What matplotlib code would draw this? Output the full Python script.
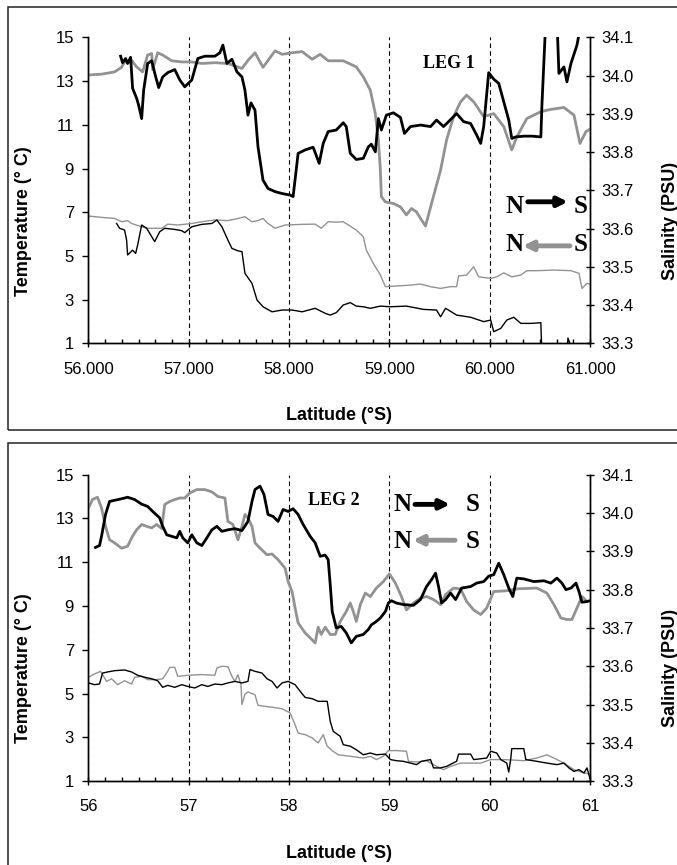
import matplotlib
matplotlib.use('Agg')
import matplotlib.pyplot as plt
from matplotlib.patches import Rectangle
from matplotlib.ticker import MultipleLocator, FormatStrFormatter

plt.rcParams['font.family'] = ['Liberation Sans', 'DejaVu Sans']

# ---- LEG 1 ----
# salinity, ship going N -> S (black, thick)
leg1_sal_ns_lat = [56.32, 56.34, 56.37, 56.39, 56.42, 56.44, 56.48, 56.50, 56.53, 56.55,
                   56.59, 56.63, 56.67, 56.70, 56.74, 56.79, 56.86, 56.91, 56.96, 57.03,
                   57.09, 57.16, 57.26, 57.31, 57.34, 57.38, 57.43, 57.48, 57.53, 57.56,
                   57.59, 57.62, 57.66, 57.69, 57.74, 57.79, 57.86, 57.93, 58.01, 58.04,
                   58.09, 58.16, 58.24, 58.30, 58.34, 58.39, 58.47, 58.54, 58.57, 58.61,
                   58.67, 58.74, 58.79, 58.82, 58.86, 58.89, 58.92, 58.97, 59.04, 59.11,
                   59.15, 59.21, 59.31, 59.41, 59.47, 59.54, 59.59, 59.67, 59.74, 59.81,
                   59.87, 59.91, 59.94, 59.99, 60.04, 60.09, 60.14, 60.19, 60.22, 60.26,
                   60.34, 60.42, 60.51, 60.52, 60.56, 60.67, 60.69, 60.74, 60.77, 60.81,
                   60.87, 60.92]
leg1_sal_ns = [34.051, 34.034, 34.045, 34.032, 34.048, 33.967, 33.941, 33.923, 33.888, 33.962,
               34.032, 34.039, 33.997, 33.969, 33.997, 34.008, 34.016, 33.989, 33.971, 33.989,
               34.045, 34.051, 34.051, 34.060, 34.080, 34.032, 34.043, 34.010, 33.997, 33.962,
               33.897, 33.929, 33.910, 33.814, 33.727, 33.705, 33.697, 33.692, 33.688, 33.684,
               33.797, 33.806, 33.813, 33.771, 33.823, 33.854, 33.858, 33.877, 33.867, 33.797,
               33.781, 33.784, 33.814, 33.821, 33.801, 33.888, 33.858, 33.897, 33.903, 33.891,
               33.849, 33.867, 33.871, 33.867, 33.884, 33.867, 33.880, 33.901, 33.880, 33.875,
               33.845, 33.823, 33.867, 34.008, 33.991, 33.980, 33.932, 33.884, 33.836, 33.840,
               33.842, 33.842, 33.840, 33.919, 34.150, 34.150, 34.006, 34.023, 33.984, 34.032,
               34.080, 34.150]

# salinity, ship going S -> N (grey, thick)
leg1_sal_sn_lat = [56.00, 56.13, 56.26, 56.33, 56.36, 56.43, 56.48, 56.54, 56.59, 56.63,
                   56.64, 56.69, 56.74, 56.83, 56.93, 57.03, 57.13, 57.26, 57.39, 57.53,
                   57.59, 57.66, 57.74, 57.79, 57.86, 57.93, 58.03, 58.13, 58.23, 58.31,
                   58.39, 58.54, 58.67, 58.74, 58.81, 58.86, 58.89, 58.91, 58.92, 58.96,
                   59.04, 59.11, 59.17, 59.22, 59.27, 59.31, 59.36, 59.42, 59.51, 59.57,
                   59.64, 59.71, 59.77, 59.84, 59.94, 60.04, 60.14, 60.22, 60.27, 60.37,
                   60.51, 60.61, 60.74, 60.84, 60.90, 60.96, 61.00]
leg1_sal_sn = [34.002, 34.004, 34.010, 34.022, 34.036, 34.040, 34.023, 34.010, 34.054, 34.058,
               34.016, 34.060, 34.054, 34.039, 34.036, 34.036, 34.032, 34.034, 34.032, 34.019,
               34.040, 34.060, 34.022, 34.040, 34.065, 34.056, 34.060, 34.063, 34.043, 34.056,
               34.039, 34.039, 34.023, 33.997, 33.962, 33.900, 33.832, 33.753, 33.684, 33.670,
               33.666, 33.657, 33.636, 33.653, 33.644, 33.627, 33.607, 33.666, 33.753, 33.832,
               33.893, 33.932, 33.949, 33.932, 33.893, 33.901, 33.867, 33.806, 33.840, 33.888,
               33.906, 33.912, 33.917, 33.897, 33.823, 33.854, 33.860]

# temperature, N -> S (black, thin)
leg1_temp_ns_lat = [56.28, 56.31, 56.36, 56.38, 56.39, 56.44, 56.47, 56.49, 56.53, 56.58,
                    56.61, 56.66, 56.71, 56.76, 56.86, 56.93, 56.96, 57.03, 57.13, 57.23,
                    57.28, 57.33, 57.39, 57.43, 57.49, 57.53, 57.56, 57.63, 57.68, 57.74,
                    57.83, 57.93, 58.03, 58.13, 58.26, 58.36, 58.41, 58.47, 58.54, 58.61,
                    58.67, 58.74, 58.81, 58.91, 59.01, 59.17, 59.34, 59.47, 59.51, 59.56,
                    59.67, 59.81, 59.94, 60.01, 60.04, 60.11, 60.17, 60.24, 60.31, 60.41,
                    60.51, 60.52, 60.77, 60.78, 60.80, 60.82]
leg1_temp_ns = [6.49, 6.27, 6.19, 5.73, 5.05, 5.27, 5.12, 5.50, 6.42, 6.27,
                6.04, 5.66, 6.11, 6.27, 6.22, 6.16, 6.07, 6.34, 6.45, 6.49,
                6.65, 6.34, 5.73, 5.35, 5.24, 5.20, 4.21, 3.75, 2.99, 2.68,
                2.45, 2.53, 2.53, 2.45, 2.61, 2.38, 2.30, 2.41, 2.76, 2.87,
                2.71, 2.68, 2.61, 2.71, 2.68, 2.71, 2.56, 2.53, 2.22, 2.61,
                2.30, 2.20, 2.00, 2.07, 1.54, 1.69, 2.07, 2.20, 1.92, 1.92,
                1.95, 0.50, 0.50, 1.25, 1.00, 0.50]

# temperature, S -> N (grey, thin)
leg1_temp_sn_lat = [56.00, 56.13, 56.26, 56.33, 56.39, 56.43, 56.53, 56.59, 56.73, 56.79,
                    56.89, 57.03, 57.13, 57.26, 57.39, 57.49, 57.56, 57.63, 57.69, 57.74,
                    57.79, 57.86, 57.96, 58.13, 58.26, 58.32, 58.39, 58.47, 58.54, 58.67,
                    58.74, 58.77, 58.84, 58.91, 58.96, 59.07, 59.21, 59.31, 59.41, 59.51,
                    59.61, 59.67, 59.69, 59.77, 59.84, 59.89, 60.01, 60.07, 60.14, 60.22,
                    60.31, 60.37, 60.47, 60.64, 60.81, 60.89, 60.92, 60.97, 61.00]
leg1_temp_sn = [6.83, 6.77, 6.72, 6.57, 6.62, 6.49, 6.34, 6.27, 6.27, 6.46,
                6.42, 6.49, 6.57, 6.65, 6.62, 6.72, 6.80, 6.57, 6.62, 6.72,
                6.49, 6.27, 6.42, 6.45, 6.46, 6.27, 6.57, 6.55, 6.57, 6.19,
                5.88, 5.27, 4.66, 4.13, 3.60, 3.63, 3.67, 3.72, 3.60, 3.52,
                3.60, 3.60, 4.09, 4.13, 4.51, 4.05, 3.98, 4.05, 4.23, 4.05,
                4.13, 4.33, 4.33, 4.36, 4.33, 4.21, 3.52, 3.75, 3.72]

# ---- LEG 2 ----
leg2_sal_ns_lat = [56.07, 56.11, 56.13, 56.17, 56.21, 56.26, 56.33, 56.39, 56.46, 56.53,
                   56.59, 56.64, 56.71, 56.74, 56.78, 56.83, 56.88, 56.91, 56.94, 56.99,
                   57.03, 57.08, 57.13, 57.18, 57.23, 57.28, 57.33, 57.39, 57.46, 57.53,
                   57.59, 57.63, 57.66, 57.71, 57.75, 57.79, 57.84, 57.89, 57.94, 57.99,
                   58.04, 58.09, 58.14, 58.21, 58.26, 58.31, 58.36, 58.39, 58.41, 58.43,
                   58.47, 58.52, 58.57, 58.62, 58.67, 58.74, 58.79, 58.82, 58.86, 58.91,
                   58.96, 58.99, 59.02, 59.07, 59.14, 59.24, 59.31, 59.37, 59.42, 59.46,
                   59.49, 59.52, 59.56, 59.61, 59.66, 59.72, 59.81, 59.87, 59.94, 59.99,
                   60.04, 60.09, 60.14, 60.19, 60.23, 60.27, 60.34, 60.44, 60.54, 60.61,
                   60.67, 60.72, 60.76, 60.81, 60.86, 60.89, 60.92, 60.97, 61.00]
leg2_sal_ns = [33.910, 33.915, 33.939, 33.996, 34.030, 34.033, 34.037, 34.041, 34.035, 34.023,
               34.017, 34.004, 33.987, 33.965, 33.943, 33.939, 33.935, 33.952, 33.935, 33.922,
               33.943, 33.922, 33.915, 33.935, 33.956, 33.965, 33.952, 33.956, 33.959, 33.954,
               33.978, 34.030, 34.061, 34.070, 34.048, 33.996, 33.991, 33.978, 34.009, 34.004,
               34.011, 33.996, 33.970, 33.939, 33.922, 33.887, 33.890, 33.878, 33.813, 33.743,
               33.700, 33.704, 33.687, 33.661, 33.678, 33.683, 33.696, 33.708, 33.715, 33.726,
               33.743, 33.765, 33.771, 33.765, 33.761, 33.759, 33.774, 33.808, 33.826, 33.843,
               33.808, 33.765, 33.774, 33.791, 33.774, 33.804, 33.808, 33.817, 33.821, 33.835,
               33.839, 33.869, 33.839, 33.804, 33.782, 33.830, 33.828, 33.821, 33.823, 33.817,
               33.830, 33.817, 33.800, 33.804, 33.817, 33.795, 33.767, 33.769, 33.771]

leg2_sal_sn_lat = [56.00, 56.04, 56.09, 56.13, 56.17, 56.21, 56.26, 56.33, 56.39, 56.43,
                   56.48, 56.53, 56.58, 56.63, 56.68, 56.73, 56.76, 56.81, 56.86, 56.91,
                   56.96, 57.01, 57.08, 57.16, 57.23, 57.29, 57.36, 57.39, 57.44, 57.49,
                   57.53, 57.56, 57.59, 57.63, 57.66, 57.71, 57.78, 57.83, 57.89, 57.96,
                   57.99, 58.03, 58.06, 58.09, 58.16, 58.23, 58.26, 58.29, 58.32, 58.36,
                   58.41, 58.46, 58.51, 58.57, 58.61, 58.64, 58.67, 58.71, 58.76, 58.81,
                   58.87, 58.94, 59.00, 59.06, 59.12, 59.17, 59.24, 59.31, 59.37, 59.44,
                   59.51, 59.56, 59.64, 59.71, 59.77, 59.84, 59.91, 59.97, 60.04, 60.17,
                   60.27, 60.47, 60.57, 60.64, 60.71, 60.77, 60.82, 60.87, 60.92, 60.97]
leg2_sal_sn = [34.013, 34.035, 34.041, 34.013, 33.965, 33.930, 33.922, 33.908, 33.913, 33.935,
               33.956, 33.970, 33.965, 33.961, 33.970, 33.959, 34.022, 34.030, 34.035, 34.039,
               34.039, 34.052, 34.061, 34.061, 34.055, 34.043, 34.039, 33.978, 33.970, 33.930,
               33.965, 33.996, 33.987, 33.965, 33.922, 33.908, 33.891, 33.893, 33.878, 33.856,
               33.821, 33.795, 33.752, 33.713, 33.687, 33.669, 33.661, 33.702, 33.683, 33.702,
               33.683, 33.683, 33.717, 33.743, 33.765, 33.743, 33.717, 33.761, 33.791, 33.782,
               33.804, 33.821, 33.841, 33.817, 33.782, 33.747, 33.765, 33.778, 33.782, 33.774,
               33.761, 33.787, 33.804, 33.802, 33.769, 33.747, 33.735, 33.752, 33.795, 33.797,
               33.802, 33.804, 33.791, 33.761, 33.726, 33.722, 33.722, 33.752, 33.782, 33.769]

leg2_temp_ns_lat = [56.00, 56.06, 56.11, 56.14, 56.19, 56.26, 56.36, 56.43, 56.49, 56.56,
                    56.63, 56.69, 56.74, 56.79, 56.86, 56.93, 56.99, 57.06, 57.13, 57.19,
                    57.26, 57.33, 57.39, 57.46, 57.53, 57.59, 57.61, 57.66, 57.73, 57.78,
                    57.83, 57.88, 57.93, 57.99, 58.06, 58.11, 58.16, 58.23, 58.29, 58.38,
                    58.41, 58.44, 58.51, 58.54, 58.61, 58.67, 58.74, 58.81, 58.87, 58.96,
                    59.01, 59.07, 59.14, 59.21, 59.27, 59.32, 59.41, 59.44, 59.51, 59.57,
                    59.67, 59.69, 59.81, 59.84, 59.97, 60.01, 60.07, 60.11, 60.17, 60.19,
                    60.21, 60.22, 60.34, 60.36, 60.47, 60.57, 60.67, 60.74, 60.79, 60.84,
                    60.89, 60.94, 60.97, 61.00]
leg2_temp_ns = [5.49, 5.41, 5.44, 5.94, 5.99, 6.05, 6.08, 5.99, 5.84, 5.75,
                5.68, 5.59, 5.29, 5.38, 5.29, 5.41, 5.33, 5.26, 5.41, 5.33,
                5.44, 5.41, 5.49, 5.56, 5.49, 5.56, 6.10, 6.02, 5.94, 5.68,
                5.56, 5.26, 5.49, 5.56, 5.41, 5.11, 4.83, 4.77, 4.65, 4.65,
                3.74, 3.28, 3.05, 2.67, 2.60, 2.44, 2.21, 2.29, 2.21, 2.24,
                1.99, 1.94, 1.91, 1.83, 1.76, 1.91, 1.99, 1.61, 1.61, 1.68,
                1.91, 2.24, 2.24, 1.99, 2.06, 2.37, 2.29, 1.99, 1.83, 1.42,
                2.03, 2.49, 2.49, 1.99, 1.91, 1.83, 1.76, 1.83, 1.61, 1.45,
                1.53, 1.38, 1.61, 1.12]

leg2_temp_sn_lat = [56.00, 56.06, 56.12, 56.18, 56.23, 56.29, 56.36, 56.43, 56.46, 56.53,
                    56.59, 56.68, 56.74, 56.79, 56.81, 56.86, 56.89, 56.99, 57.13, 57.26,
                    57.28, 57.33, 57.39, 57.43, 57.46, 57.49, 57.52, 57.53, 57.56, 57.59,
                    57.66, 57.69, 57.76, 57.83, 57.93, 58.01, 58.06, 58.09, 58.16, 58.23,
                    58.29, 58.34, 58.38, 58.43, 58.49, 58.61, 58.74, 58.81, 58.87, 58.94,
                    58.99, 59.07, 59.17, 59.19, 59.27, 59.37, 59.47, 59.54, 59.61, 59.71,
                    59.81, 59.91, 60.01, 60.14, 60.34, 60.47, 60.57, 60.64, 60.74, 60.84,
                    60.94, 61.00]
leg2_temp_sn = [5.75, 5.90, 6.02, 5.56, 5.68, 5.41, 5.59, 5.44, 5.75, 5.79,
                5.64, 5.64, 5.68, 6.02, 6.20, 6.20, 5.79, 5.84, 5.87, 5.84,
                6.17, 6.25, 6.23, 5.79, 5.56, 5.87, 5.41, 4.50, 4.98, 5.08,
                4.95, 4.47, 4.42, 4.38, 4.31, 4.12, 3.58, 3.20, 3.13, 2.98,
                2.75, 3.13, 2.60, 2.40, 2.21, 2.14, 2.06, 2.14, 1.99, 2.14,
                2.40, 2.40, 2.37, 1.91, 1.88, 1.94, 1.68, 1.53, 1.68, 1.83,
                1.83, 1.83, 1.99, 1.99, 1.94, 2.06, 2.21, 2.06, 1.83, 1.53,
                1.38, 1.33]

temp_ticks = [1, 3, 5, 7, 9, 11, 13, 15]
sal_ticks = [33.3, 33.4, 33.5, 33.6, 33.7, 33.8, 33.9, 34.0, 34.1]
lat_ticks = [56, 57, 58, 59, 60, 61]

GREY = '#929292'
serif = ['Liberation Serif', 'DejaVu Serif']

fig = plt.figure(figsize=(6.77, 8.65), dpi=100)

# the two boxes around the panels
fig.add_artist(Rectangle((0.0118, 0.503), 1.0, 0.489, transform=fig.transFigure,
                         fill=False, ec='#222222', lw=1.1))
fig.add_artist(Rectangle((0.0118, -0.02), 1.0, 0.508, transform=fig.transFigure,
                         fill=False, ec='#222222', lw=1.1))


def panel(rect, lines, xfmt, leg, leg_xy, n_x, s_x, ar1, ar2, row1, row2, ylab_y):
    ax = fig.add_axes(rect)
    ax2 = ax.twinx()
    t_ns, t_sn, s_ns, s_sn = lines
    ax.plot(*t_sn, color=GREY, lw=1.0)
    ax.plot(*t_ns, color='black', lw=1.0)
    ax2.plot(*s_sn, color=GREY, lw=2.0)
    ax2.plot(*s_ns, color='black', lw=2.0)

    ax.set_xlim(56, 61)
    ax.set_ylim(1, 15)
    ax2.set_ylim(33.3, 34.1)
    ax.set_xticks(lat_ticks)
    ax.xaxis.set_major_formatter(FormatStrFormatter(xfmt))
    ax.xaxis.set_minor_locator(MultipleLocator(1 / 6))
    ax.set_yticks(temp_ticks)
    ax2.set_yticks(sal_ticks)
    ax2.yaxis.set_major_formatter(FormatStrFormatter('%.1f'))
    ax.grid(axis='x', which='major', ls=(0, (4, 3)), color='black', lw=0.8)

    for a in (ax, ax2):
        a.spines['top'].set_visible(False)
        for s in a.spines.values():
            s.set_linewidth(1.0)
    ax.tick_params(axis='x', which='major', direction='inout', length=6, width=1.0,
                   labelsize=12, pad=10)
    ax.tick_params(axis='x', which='minor', direction='in', length=3, width=1.0)
    ax.tick_params(axis='y', direction='out', length=4.5, width=1.0, labelsize=12, pad=6)
    ax2.tick_params(axis='y', direction='inout', length=6, width=1.0, labelsize=12, pad=5)

    ax.set_xlabel('Latitude (°S)', fontsize=13, fontweight='bold')
    ax.xaxis.set_label_coords(0.5, -0.207)
    ax.set_ylabel('Temperature (° C)', fontsize=13, fontweight='bold')
    ax.yaxis.set_label_coords(-0.113, ylab_y)
    ax2.set_ylabel('Salinity (PSU)', fontsize=13, fontweight='bold')
    ax2.yaxis.set_label_coords(1.143, ylab_y)

    ax.text(leg_xy[0], leg_xy[1], leg, transform=ax.transAxes, ha='center', va='center',
            fontsize=13, fontweight='bold', family=serif)
    for y_txt, y_ar, (x0, x1), col in ((row1[0], row1[1], ar1, 'black'),
                                       (row2[0], row2[1], ar2, GREY)):
        ax.text(n_x, y_txt, 'N', transform=ax.transAxes, ha='center', va='center',
                fontsize=18, fontweight='bold', family=serif)
        ax.text(s_x, y_txt, 'S', transform=ax.transAxes, ha='center', va='center',
                fontsize=18, fontweight='bold', family=serif)
        ax.annotate('', xy=(x1, y_ar), xytext=(x0, y_ar), xycoords='axes fraction',
                    arrowprops=dict(arrowstyle='-|>', color=col, lw=3.5,
                                    mutation_scale=14, shrinkA=0, shrinkB=0))
    return ax


panel([0.1307, 0.6029, 0.7408, 0.3538],
      [(leg1_temp_ns_lat, leg1_temp_ns), (leg1_temp_sn_lat, leg1_temp_sn),
       (leg1_sal_ns_lat, leg1_sal_ns), (leg1_sal_sn_lat, leg1_sal_sn)],
      '%.3f', 'LEG 1', (0.718, 0.915), 0.850, 0.982,
      (0.876, 0.956), (0.960, 0.866), (0.447, 0.463), (0.322, 0.319), 0.40)

panel([0.1307, 0.0968, 0.7408, 0.3545],
      [(leg2_temp_ns_lat, leg2_temp_ns), (leg2_temp_sn_lat, leg2_temp_sn),
       (leg2_sal_ns_lat, leg2_sal_ns), (leg2_sal_sn_lat, leg2_sal_sn)],
      '%d', 'LEG 2', (0.49, 0.917), 0.626, 0.766,
      (0.651, 0.721), (0.731, 0.647), (0.903, 0.903), (0.783, 0.786), 0.37)

fig.savefig('out.png', dpi=100)
